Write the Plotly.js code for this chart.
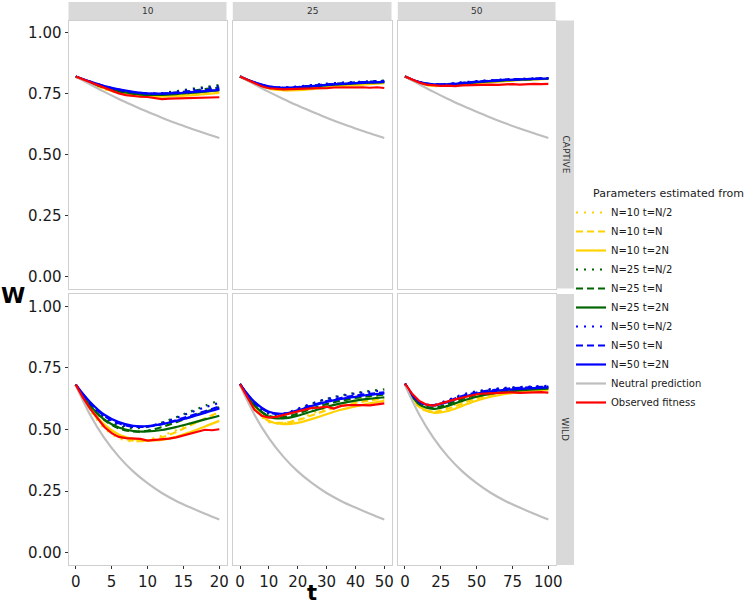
<!DOCTYPE html>
<html><head><meta charset="utf-8">
<script src="https://cdn.plot.ly/plotly-3.0.1.min.js"></script>
<style>html,body{margin:0;padding:0;background:#fff}#chart{width:749px;height:604px}</style>
</head><body><div id="chart"></div><script>
// ---------------- DATA ----------------
const seriesNames = ['N=10 t=N/2','N=10 t=N','N=10 t=2N','N=25 t=N/2','N=25 t=N','N=25 t=2N','N=50 t=N/2','N=50 t=N','N=50 t=2N','Neutral prediction','Observed fitness'];
const columnLabels = ['10','25','50'];
const rowLabels = ['CAPTIVE','WILD'];
const xTicks10 = [0,5,10,15,20];
const xTicks25 = [0,10,20,30,40,50];
const xTicks50 = [0,25,50,75,100];
const yTicks = [0,0.25,0.5,0.75,1];
const yTickText = ['0.00','0.25','0.50','0.75','1.00'];

const tGrid10 = [0,2,4,6,8,10,12,14,16,18,20];
const tGrid25 = [0,5,10,15,20,25,30,35,40,45,50];
const tGrid50 = [0,10,20,30,40,50,60,70,80,90,100];
const tObs10 = [0,1,2,3,4,5,6,7,8,9,10,11,12,13,14,15,16,17,18,19,20];
const tObs25 = [0,2.5,5,7.5,10,12.5,15,17.5,20,22.5,25,27.5,30,32.5,35,37.5,40,42.5,45,47.5,50];
const tObs50 = [0,5,10,15,20,25,30,35,40,45,50,55,60,65,70,75,80,85,90,95,100];

// CAPTIVE, N = 10
const captive10_estimates = [
  [0.82,0.792,0.768,0.752,0.743,0.740,0.742,0.748,0.756,0.764,0.772],
  [0.82,0.793,0.770,0.754,0.744,0.740,0.741,0.745,0.751,0.757,0.763],
  [0.82,0.794,0.772,0.755,0.744,0.738,0.737,0.739,0.743,0.748,0.753],
  [0.82,0.797,0.777,0.762,0.752,0.749,0.752,0.760,0.769,0.777,0.785],
  [0.82,0.796,0.775,0.759,0.750,0.746,0.748,0.754,0.761,0.768,0.775],
  [0.82,0.796,0.776,0.760,0.750,0.745,0.745,0.748,0.753,0.758,0.764],
  [0.82,0.798,0.779,0.764,0.754,0.750,0.752,0.758,0.766,0.773,0.780],
  [0.82,0.799,0.781,0.766,0.756,0.750,0.750,0.754,0.759,0.764,0.770],
  [0.82,0.799,0.781,0.767,0.757,0.751,0.750,0.752,0.756,0.760,0.765]
];
const captive10_neutral = [0.82,0.788,0.757,0.728,0.701,0.675,0.651,0.628,0.607,0.587,0.568];
const captive10_observed = [0.82,0.808,0.796,0.785,0.773,0.762,0.751,0.744,0.739,0.737,0.736,0.732,0.727,0.729,0.730,0.729,0.731,0.732,0.734,0.733,0.735];

// CAPTIVE, N = 25
const captive25_estimates = [
  [0.82,0.790,0.770,0.764,0.768,0.776,0.783,0.788,0.792,0.795,0.798],
  [0.82,0.791,0.771,0.764,0.766,0.772,0.779,0.785,0.789,0.793,0.796],
  [0.82,0.792,0.772,0.764,0.764,0.768,0.774,0.780,0.785,0.789,0.793],
  [0.82,0.794,0.777,0.773,0.778,0.785,0.790,0.794,0.797,0.800,0.803],
  [0.82,0.794,0.777,0.772,0.776,0.782,0.787,0.791,0.795,0.798,0.800],
  [0.82,0.794,0.777,0.771,0.774,0.779,0.784,0.788,0.792,0.795,0.797],
  [0.82,0.795,0.779,0.775,0.779,0.785,0.790,0.794,0.797,0.800,0.802],
  [0.82,0.795,0.779,0.774,0.777,0.782,0.787,0.791,0.795,0.798,0.800],
  [0.82,0.796,0.780,0.774,0.776,0.781,0.786,0.790,0.793,0.796,0.798]
];
const captive25_neutral = [0.82,0.788,0.757,0.728,0.701,0.675,0.651,0.628,0.607,0.587,0.568];
const captive25_observed = [0.82,0.806,0.792,0.780,0.772,0.768,0.767,0.768,0.768,0.770,0.771,0.773,0.772,0.775,0.776,0.775,0.777,0.776,0.774,0.776,0.773];

// CAPTIVE, N = 50
const captive50_estimates = [
  [0.82,0.792,0.781,0.784,0.791,0.797,0.802,0.806,0.808,0.810,0.812],
  [0.82,0.793,0.782,0.783,0.789,0.795,0.800,0.804,0.807,0.809,0.811],
  [0.82,0.794,0.783,0.783,0.787,0.792,0.797,0.801,0.805,0.808,0.810],
  [0.82,0.796,0.787,0.789,0.795,0.800,0.804,0.807,0.810,0.812,0.814],
  [0.82,0.796,0.786,0.788,0.793,0.798,0.802,0.806,0.808,0.810,0.812],
  [0.82,0.796,0.786,0.787,0.791,0.796,0.800,0.804,0.807,0.809,0.811],
  [0.82,0.797,0.788,0.790,0.796,0.801,0.805,0.808,0.810,0.812,0.814],
  [0.82,0.797,0.788,0.789,0.794,0.799,0.803,0.807,0.809,0.811,0.813],
  [0.82,0.797,0.788,0.788,0.793,0.798,0.802,0.806,0.808,0.810,0.812]
];
const captive50_neutral = [0.82,0.788,0.757,0.728,0.701,0.675,0.651,0.628,0.607,0.587,0.568];
const captive50_observed = [0.82,0.806,0.795,0.787,0.784,0.782,0.783,0.781,0.784,0.785,0.784,0.786,0.787,0.786,0.788,0.789,0.787,0.789,0.790,0.789,0.790];

// WILD, N = 10
const wild10_estimates = [
  [0.682,0.580,0.505,0.465,0.452,0.458,0.475,0.497,0.520,0.543,0.565],
  [0.682,0.585,0.513,0.472,0.455,0.455,0.468,0.490,0.517,0.545,0.570],
  [0.682,0.590,0.520,0.480,0.462,0.456,0.458,0.470,0.490,0.512,0.535],
  [0.682,0.602,0.545,0.515,0.505,0.511,0.528,0.550,0.573,0.596,0.618],
  [0.682,0.598,0.538,0.505,0.492,0.495,0.510,0.530,0.551,0.571,0.590],
  [0.682,0.598,0.540,0.508,0.494,0.492,0.498,0.510,0.525,0.541,0.556],
  [0.682,0.606,0.552,0.522,0.510,0.513,0.527,0.547,0.569,0.590,0.608],
  [0.682,0.608,0.555,0.525,0.512,0.512,0.522,0.538,0.556,0.574,0.593],
  [0.682,0.612,0.560,0.530,0.515,0.514,0.522,0.535,0.550,0.567,0.585]
];
const wild10_neutral = [0.68,0.560,0.465,0.390,0.330,0.282,0.242,0.210,0.183,0.158,0.135];
const wild10_observed = [0.682,0.630,0.585,0.545,0.510,0.485,0.470,0.465,0.463,0.462,0.455,0.457,0.460,0.463,0.468,0.475,0.483,0.490,0.499,0.497,0.501];

// WILD, N = 25
const wild25_estimates = [
  [0.684,0.585,0.530,0.525,0.540,0.565,0.588,0.605,0.618,0.627,0.634],
  [0.684,0.588,0.535,0.527,0.538,0.558,0.578,0.595,0.608,0.618,0.626],
  [0.684,0.590,0.535,0.522,0.527,0.543,0.562,0.580,0.594,0.606,0.616],
  [0.684,0.605,0.563,0.561,0.582,0.605,0.624,0.638,0.648,0.656,0.663],
  [0.684,0.600,0.555,0.550,0.565,0.585,0.603,0.617,0.628,0.636,0.642],
  [0.684,0.598,0.552,0.545,0.556,0.574,0.592,0.606,0.617,0.625,0.631],
  [0.684,0.608,0.567,0.564,0.584,0.606,0.623,0.636,0.646,0.653,0.659],
  [0.684,0.610,0.570,0.563,0.578,0.598,0.615,0.628,0.638,0.645,0.651],
  [0.684,0.612,0.572,0.564,0.577,0.596,0.612,0.624,0.633,0.641,0.647]
];
const wild25_neutral = [0.68,0.560,0.465,0.390,0.330,0.282,0.242,0.210,0.183,0.158,0.135];
const wild25_observed = [0.684,0.630,0.580,0.556,0.548,0.551,0.558,0.565,0.572,0.580,0.588,0.589,0.593,0.585,0.596,0.599,0.600,0.599,0.598,0.602,0.606];

// WILD, N = 50
const wild50_estimates = [
  [0.686,0.590,0.573,0.590,0.614,0.633,0.646,0.654,0.660,0.664,0.667],
  [0.686,0.592,0.572,0.584,0.606,0.625,0.639,0.649,0.656,0.661,0.664],
  [0.686,0.595,0.568,0.575,0.596,0.617,0.633,0.644,0.652,0.658,0.662],
  [0.686,0.607,0.597,0.617,0.638,0.652,0.661,0.667,0.671,0.673,0.675],
  [0.686,0.603,0.588,0.603,0.624,0.640,0.651,0.658,0.663,0.667,0.670],
  [0.686,0.602,0.584,0.596,0.616,0.633,0.645,0.653,0.659,0.663,0.666],
  [0.686,0.610,0.600,0.620,0.641,0.655,0.664,0.669,0.672,0.675,0.677],
  [0.686,0.611,0.599,0.616,0.636,0.650,0.659,0.665,0.669,0.672,0.674],
  [0.686,0.612,0.598,0.612,0.632,0.646,0.655,0.661,0.665,0.668,0.671]
];
const wild50_neutral = [0.68,0.560,0.465,0.390,0.330,0.282,0.242,0.210,0.183,0.158,0.135];
const wild50_observed = [0.686,0.645,0.616,0.601,0.597,0.604,0.614,0.622,0.630,0.637,0.643,0.646,0.648,0.649,0.650,0.651,0.649,0.651,0.650,0.652,0.650];

// ---------------- STYLE ----------------
const estColors = ['#FFD200','#FFD200','#FFD200','#006400','#006400','#006400','#0000FF','#0000FF','#0000FF'];
const estDashes = ['2px,6px','7px,4px','solid','2px,6px','7px,4px','solid','2px,6px','7px,4px','solid'];

const panels = [
  {xa:'x', ya:'y', grid:tGrid10, obs:tObs10, est:captive10_estimates, neu:captive10_neutral, ob:captive10_observed},
  {xa:'x2',ya:'y2',grid:tGrid25, obs:tObs25, est:captive25_estimates, neu:captive25_neutral, ob:captive25_observed},
  {xa:'x3',ya:'y3',grid:tGrid50, obs:tObs50, est:captive50_estimates, neu:captive50_neutral, ob:captive50_observed},
  {xa:'x4',ya:'y4',grid:tGrid10, obs:tObs10, est:wild10_estimates, neu:wild10_neutral, ob:wild10_observed},
  {xa:'x5',ya:'y5',grid:tGrid25, obs:tObs25, est:wild25_estimates, neu:wild25_neutral, ob:wild25_observed},
  {xa:'x6',ya:'y6',grid:tGrid50, obs:tObs50, est:wild50_estimates, neu:wild50_neutral, ob:wild50_observed}
];

const traces = [];
panels.forEach((p, pi) => {
  p.est.forEach((vals, si) => {
    traces.push({type:'scatter', mode:'lines', x:p.grid, y:vals, xaxis:p.xa, yaxis:p.ya,
      name:seriesNames[si], legendgroup:seriesNames[si], showlegend: pi===0,
      line:{color:estColors[si], width:2.2, dash:estDashes[si], shape:'spline', smoothing:1}, hoverinfo:'skip'});
  });
  traces.push({type:'scatter', mode:'lines', x:p.grid, y:p.neu, xaxis:p.xa, yaxis:p.ya,
    name:seriesNames[9], legendgroup:seriesNames[9], showlegend: pi===0,
    line:{color:'#BEBEBE', width:2.2, shape:'spline', smoothing:1}, hoverinfo:'skip'});
  traces.push({type:'scatter', mode:'lines', x:p.obs, y:p.ob, xaxis:p.xa, yaxis:p.ya,
    name:seriesNames[10], legendgroup:seriesNames[10], showlegend: pi===0,
    line:{color:'#FF0000', width:2.2}, hoverinfo:'skip'});
});
const legendRank = {};
seriesNames.forEach((n,i)=>legendRank[n]=i+1);
traces.forEach(t=>{t.legendrank = legendRank[t.name];});

// ---------------- LAYOUT ----------------
const W = 749, H = 604;
const colPx = [[68.5,226.5],[232.8,391.5],[397.8,555.5]];
const rowPx = [[20.5,288.5],[294,565]];
const xr = c => [c[0]/W, c[1]/W];
const yr = r => [(H-r[1])/H, (H-r[0])/H];
const xRanges = [[-1,21],[-2.5,52.5],[-5,105]];
const xTickSets = [xTicks10, xTicks25, xTicks50];
const tickFont = {family:'DejaVu Sans', size:15, color:'#1a1a1a'};

const layout = {
  width:W, height:H, margin:{l:0,r:0,t:0,b:0}, paper_bgcolor:'#fff', plot_bgcolor:'#fff',
  font:{family:'DejaVu Sans', color:'#1a1a1a'},
  showlegend:true,
  legend:{x:571/W, xanchor:'left', y:(H-198)/H, yanchor:'top', bgcolor:'rgba(0,0,0,0)',
    font:{family:'DejaVu Sans', size:10, color:'#1a1a1a'}, tracegroupgap:0, traceorder:'normal'},
  shapes:[], annotations:[]
};
for (let r=0;r<2;r++){
  for (let c=0;c<3;c++){
    const k = r*3+c+1;
    const xn = k===1?'xaxis':'xaxis'+k, yn = k===1?'yaxis':'yaxis'+k;
    layout[xn] = {domain:xr(colPx[c]), range:xRanges[c], anchor:k===1?'y':'y'+k,
      showgrid:false, zeroline:false, showline:true, mirror:true, linecolor:'#CFCFCF', linewidth:1,
      tickvals:xTickSets[c], ticks: r===1?'outside':'', ticklen:3, tickcolor:'#333',
      showticklabels: r===1, tickfont:tickFont};
    layout[yn] = {domain:yr(rowPx[r]), range:[-0.05,1.05], anchor:k===1?'x':'x'+k,
      showgrid:false, zeroline:false, showline:true, mirror:true, linecolor:'#CFCFCF', linewidth:1,
      tickvals:yTicks, ticktext:yTickText, ticks: c===0?'outside':'', ticklen:3, tickcolor:'#333',
      showticklabels: c===0, tickfont:tickFont};
  }
}
colPx.forEach((c,i)=>{
  layout.shapes.push({type:'rect', xref:'paper', yref:'paper', x0:c[0]/W, x1:c[1]/W, y0:(H-20)/H, y1:(H-2)/H,
    fillcolor:'#D9D9D9', line:{width:0}});
  layout.annotations.push({xref:'paper', yref:'paper', x:(c[0]+c[1])/2/W, y:(H-11)/H, text:columnLabels[i],
    showarrow:false, font:{family:'DejaVu Sans', size:9, color:'#333'}, xanchor:'center', yanchor:'middle'});
});
rowPx.forEach((r,i)=>{
  layout.shapes.push({type:'rect', xref:'paper', yref:'paper', x0:556/W, x1:574/W, y0:(H-r[1])/H, y1:(H-r[0])/H,
    fillcolor:'#D9D9D9', line:{width:0}});
  layout.annotations.push({xref:'paper', yref:'paper', x:565/W, y:(H-(r[0]+r[1])/2)/H, text:rowLabels[i],
    textangle:90, showarrow:false, font:{family:'DejaVu Sans', size:9, color:'#333'}, xanchor:'center', yanchor:'middle'});
});
layout.annotations.push({xref:'paper', yref:'paper', x:13/W, y:(H-296)/H, text:'<b>W</b>', showarrow:false,
  font:{family:'DejaVu Sans', size:22, color:'#000'}, xanchor:'center', yanchor:'middle'});
layout.annotations.push({xref:'paper', yref:'paper', x:312/W, y:0, yshift:-2, text:'<b>t</b>', showarrow:false,
  font:{family:'DejaVu Sans', size:21, color:'#000'}, xanchor:'center', yanchor:'bottom', borderpad:0});
layout.annotations.push({xref:'paper', yref:'paper', x:591/W, y:(H-193)/H, text:'Parameters estimated from', showarrow:false,
  font:{family:'DejaVu Sans', size:11, color:'#1a1a1a'}, xanchor:'left', yanchor:'middle'});

Plotly.newPlot('chart', traces, layout, {staticPlot:true, displayModeBar:false});
</script></body></html>
